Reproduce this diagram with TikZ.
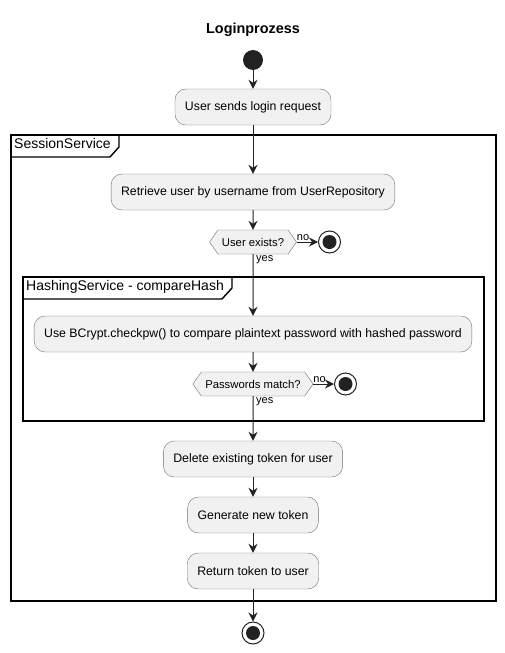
\documentclass[tikz,border=0pt]{standalone}
\usepackage{fontspec}
\setmainfont{Liberation Sans}
\usepackage{tikz}
\usetikzlibrary{arrows.meta}
\usetikzlibrary{positioning}
\usetikzlibrary{shapes.symbols}
\definecolor{actfill}{HTML}{F1F1F1}
\definecolor{actline}{HTML}{707070}
\definecolor{dot}{HTML}{222222}
\tikzset{>={Stealth[length=9pt,width=9pt,inset=3pt]}}
\tikzstyle{act} = [rectangle, rounded corners=11pt, draw=actline, fill=actfill, minimum height=36pt, inner xsep=10pt, font=\fontsize{12.3}{15}\selectfont]
\tikzstyle{choice} = [signal, signal to=west and east, signal pointer angle=110, draw=actline, fill=actfill, minimum height=24pt, inner xsep=4pt, inner ysep=2pt, font=\fontsize{11.3}{13}\selectfont]
\tikzstyle{flow} = [->, draw=dot, line width=1pt]
\tikzstyle{lbl} = [draw=none, inner sep=1pt, font=\fontsize{11}{13}\selectfont]
\tikzstyle{stop} = [circle, draw=dot, line width=1pt, fill=white, minimum size=22pt, inner sep=0pt, path picture={\fill[dot] (path picture bounding box.center) circle (7pt);}]
\tikzstyle{frame} = [draw=black, line width=1.4pt]
\tikzstyle{tab} = [draw=none, inner sep=2pt, anchor=north west, font=\fontsize{14}{16}\selectfont]

\begin{document}
\begin{tikzpicture}[x=1pt, y=-1pt]
\useasboundingbox (0,0) rectangle (505,653);
\node [draw=none, font=\bfseries\fontsize{14.4}{17}\selectfont] (title) at (253, 30) {Loginprozess};
% frames
\draw [frame] (11, 135) rectangle (496, 601);
\draw [frame] (11, 157) -- (110, 157) -- (119, 147) -- (119, 135);
\node [tab] (sessiontab) at (12, 136) {SessionService};
\draw [frame] (23, 277) rectangle (484, 421);
\draw [frame] (23, 299) -- (222, 299) -- (232, 288) -- (232, 277);
\node [tab] (hashtab) at (24, 278) {HashingService - compareHash};
% nodes
\node [circle, fill=dot, minimum size=20pt, inner sep=0pt] (start) at (253, 60) {};
\node [act] (login) at (253, 107) {User sends login request};
\node [act] (retrieve) at (253, 192) {Retrieve user by username from UserRepository};
\node [choice] (exists) at (253, 242) {User exists?};
\node [stop] (stopuser) at (329.5, 242) {};
\node [act] (checkpw) at (253, 334) {Use BCrypt.checkpw() to compare plaintext password with hashed password};
\node [choice] (match) at (253, 384) {Passwords match?};
\node [stop] (stoppw) at (345.5, 384) {};
\node [act] (delete) at (253, 459) {Delete existing token for user};
\node [act] (generate) at (253, 515) {Generate new token};
\node [act] (return) at (253, 571) {Return token to user};
\node [stop] (stopend) at (253, 633) {};
% connectors
\draw [flow] (start) to (login);
\draw [flow] (login) to (retrieve);
\draw [flow] (retrieve) to (exists);
\draw [flow] (exists.east) to node [lbl, above, pos=0.3] {no} (stopuser);
\draw [flow] (exists) to (checkpw);
\node [lbl, below right=0pt and 2pt of exists.south] (yesuser) {yes};
\draw [flow] (checkpw) to (match);
\draw [flow] (match.east) to node [lbl, above, pos=0.3] {no} (stoppw);
\draw [flow] (match) to (delete);
\node [lbl, below right=0pt and 2pt of match.south] (yespw) {yes};
\draw [flow] (delete) to (generate);
\draw [flow] (generate) to (return);
\draw [flow] (return) to (stopend);
\end{tikzpicture}
\end{document}
